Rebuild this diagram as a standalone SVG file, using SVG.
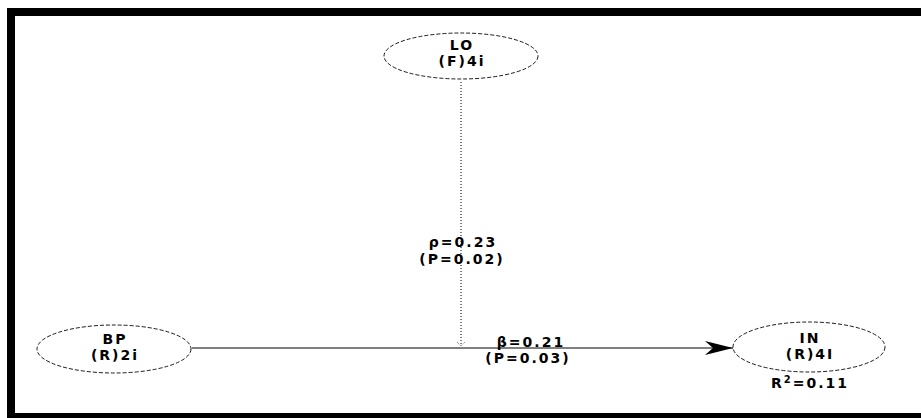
<svg xmlns="http://www.w3.org/2000/svg" width="921" height="418" viewBox="0 0 921 418">
<style>
.n{fill:#fff;stroke:#000;stroke-width:0.9;stroke-dasharray:4 2}
.t{font-family:"DejaVu Sans","Liberation Sans",sans-serif;font-weight:bold;font-size:14px;letter-spacing:2px;text-anchor:middle;fill:#000}
</style>
<defs>
<marker id="ah" markerWidth="30" markerHeight="14" refX="28" refY="7" orient="auto" markerUnits="userSpaceOnUse">
<path d="M0,0 L28,7 L0,14 L8,7 Z" fill="#000"/>
</marker>
</defs>
<rect x="0" y="0" width="921" height="418" fill="#fff"/>
<path d="M11,418 V12 H921" fill="none" stroke="#000" stroke-width="8"/>
<path d="M7,415.5 H921" stroke="#000" stroke-width="5"/>
<g id="connectors">
<line x1="192" y1="348" x2="733" y2="348" stroke="#000" stroke-width="1" marker-end="url(#ah)"/>
<line x1="461" y1="82" x2="461" y2="346" stroke="#000" stroke-width="1" stroke-dasharray="1 2"/>
<path d="M457,342 L461,346 L465,342" fill="none" stroke="#000" stroke-width="0.6" stroke-dasharray="1 1"/>
<g class="t">
<text x="463" y="247">ρ=0.23</text>
<text x="462" y="264">(P=0.02)</text>
<text x="531" y="347">β=0.21</text>
<text x="528" y="363">(P=0.03)</text>
</g>
</g>
<g id="LO">
<ellipse class="n" cx="461" cy="56" rx="77" ry="23"/>
<text class="t" x="462" y="50">LO</text>
<text class="t" x="462" y="66">(F)4i</text>
</g>
<g id="BP">
<ellipse class="n" cx="114" cy="349" rx="77" ry="24"/>
<text class="t" x="115" y="344">BP</text>
<text class="t" x="115" y="360">(R)2i</text>
</g>
<g id="IN">
<ellipse class="n" cx="809" cy="347" rx="76" ry="25"/>
<text class="t" x="810" y="343">IN</text>
<text class="t" x="810" y="359">(R)4I</text>
<text class="t" x="810" y="388">R<tspan font-size="10" dy="-5">2</tspan><tspan dy="5">=0.11</tspan></text>
</g>
</svg>
